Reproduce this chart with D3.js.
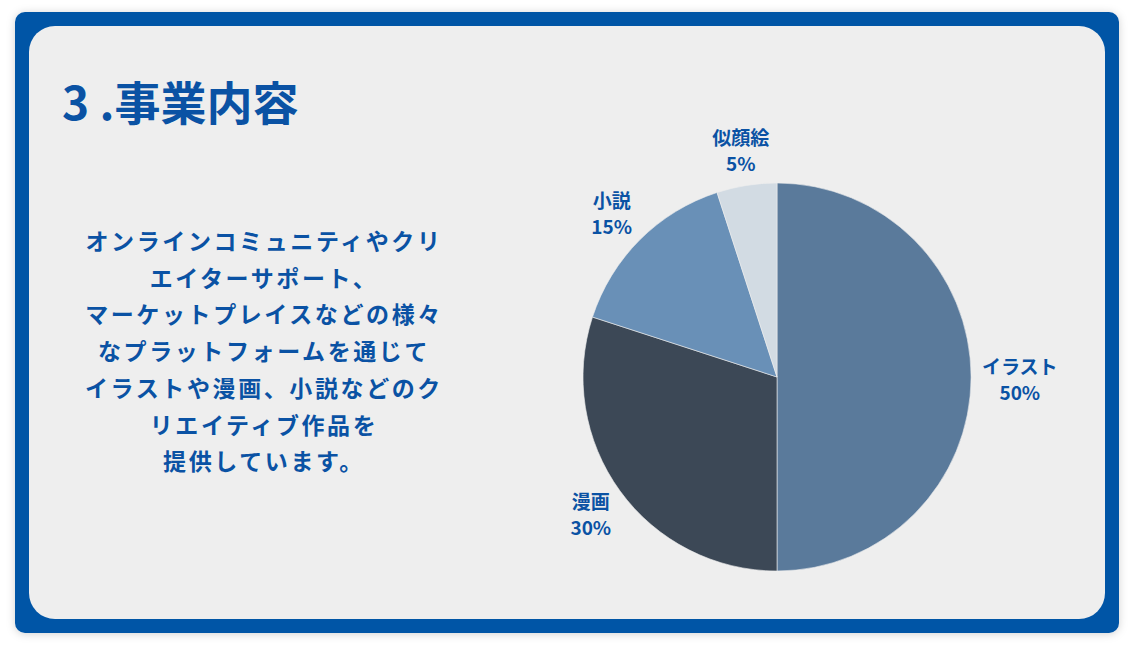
<!DOCTYPE html>
<html>
<head>
<meta charset="utf-8">
<script src="https://cdn.jsdelivr.net/npm/d3@7"></script>
<style>
  html, body { margin: 0; padding: 0; background: #ffffff; }
  svg { display: block; font-family: "Noto Sans CJK JP", "Noto Sans", sans-serif; }
</style>
</head>
<body>
<div id="canvas-container"></div>
<script>
var title = "3 .事業内容";
var bodyLines = [
    "オンラインコミュニティやクリ",
    "エイターサポート、",
    "マーケットプレイスなどの様々",
    "なプラットフォームを通じて",
    "イラストや漫画、小説などのク",
    "リエイティブ作品を",
    "提供しています。"
];
var categories = ["イラスト", "漫画", "小説", "似顔絵"];
var shares = [50, 30, 15, 5];
var sliceColors = ["#5a7a9b", "#3c4856", "#6990b7", "#d2dbe3"];

var w = 1134, h = 651;
var blue = "#0054a6";
var textBlue = "#0a52a4";

var svg = d3.select("#canvas-container").append("svg")
    .attr("width", w)
    .attr("height", h);

var defs = svg.append("defs");
var shadow = defs.append("filter").attr("id", "shadow")
    .attr("x", "-5%").attr("y", "-5%").attr("width", "110%").attr("height", "110%");
shadow.append("feDropShadow")
    .attr("dx", 0).attr("dy", 1)
    .attr("stdDeviation", 4)
    .attr("flood-color", "#000").attr("flood-opacity", 0.18);

// frame
svg.append("rect")
    .attr("x", 15).attr("y", 12)
    .attr("width", 1104).attr("height", 621)
    .attr("rx", 10)
    .attr("fill", blue)
    .attr("filter", "url(#shadow)");

svg.append("rect")
    .attr("x", 29).attr("y", 26)
    .attr("width", 1076).attr("height", 593)
    .attr("rx", 26)
    .attr("fill", "#eeeeee");

// title
svg.append("text")
    .attr("x", 62).attr("y", 120)
    .attr("fill", textBlue)
    .attr("font-size", 46)
    .attr("font-weight", 700)
    .text(title);

// paragraph
svg.append("g").selectAll("text")
    .data(bodyLines)
    .enter().append("text")
    .attr("x", 264)
    .attr("y", function(d, i) { return 250 + i * 36.7; })
    .attr("text-anchor", "middle")
    .attr("fill", textBlue)
    .attr("font-size", 23)
    .attr("font-weight", 700)
    .attr("letter-spacing", 2.6)
    .text(function(d) { return d; });

// pie
var cx = 777, cy = 377, radius = 194, labelRadius = 205;

var data = categories.map(function(c, i) {
    return { name: c, value: shares[i], color: sliceColors[i] };
});

var pie = d3.pie().sort(null).value(function(d) { return d.value; });
var arc = d3.arc().innerRadius(0).outerRadius(radius);

var g = svg.append("g").attr("transform", "translate(" + cx + "," + cy + ")");

var arcs = pie(data);

g.selectAll("path.slice")
    .data(arcs)
    .enter().append("path")
    .attr("class", "slice")
    .attr("d", arc)
    .attr("fill", function(d) { return d.data.color; })
    .attr("stroke", "#eeeeee")
    .attr("stroke-width", 0.6);

var labels = g.selectAll("g.label")
    .data(arcs)
    .enter().append("g")
    .attr("class", "label");

labels.append("text")
    .attr("y", -6)
    .attr("text-anchor", "middle")
    .attr("fill", textBlue)
    .attr("font-size", 19)
    .attr("font-weight", 700)
    .text(function(d) { return d.data.name; });

labels.append("text")
    .attr("y", 20)
    .attr("text-anchor", "middle")
    .attr("fill", textBlue)
    .attr("font-size", 19)
    .attr("font-weight", 700)
    .text(function(d) { return d.data.value + "%"; });

// push each label box outward so its nearest edge touches the label radius
labels.each(function(d) {
    var a = (d.startAngle + d.endAngle) / 2;
    var ux = Math.sin(a), uy = -Math.cos(a);
    var b = this.getBBox();
    var hw = b.width / 2, hh = b.height / 2;
    var ox = b.x + hw, oy = b.y + hh;
    var s = Math.min(Math.abs(ux) > 1e-6 ? hw / Math.abs(ux) : Infinity,
                     Math.abs(uy) > 1e-6 ? hh / Math.abs(uy) : Infinity);
    var px = ux * (labelRadius + s) - ox;
    var py = uy * (labelRadius + s) - oy + 1;
    d3.select(this).attr("transform", "translate(" + px + "," + py + ")");
});
</script>
</body>
</html>
